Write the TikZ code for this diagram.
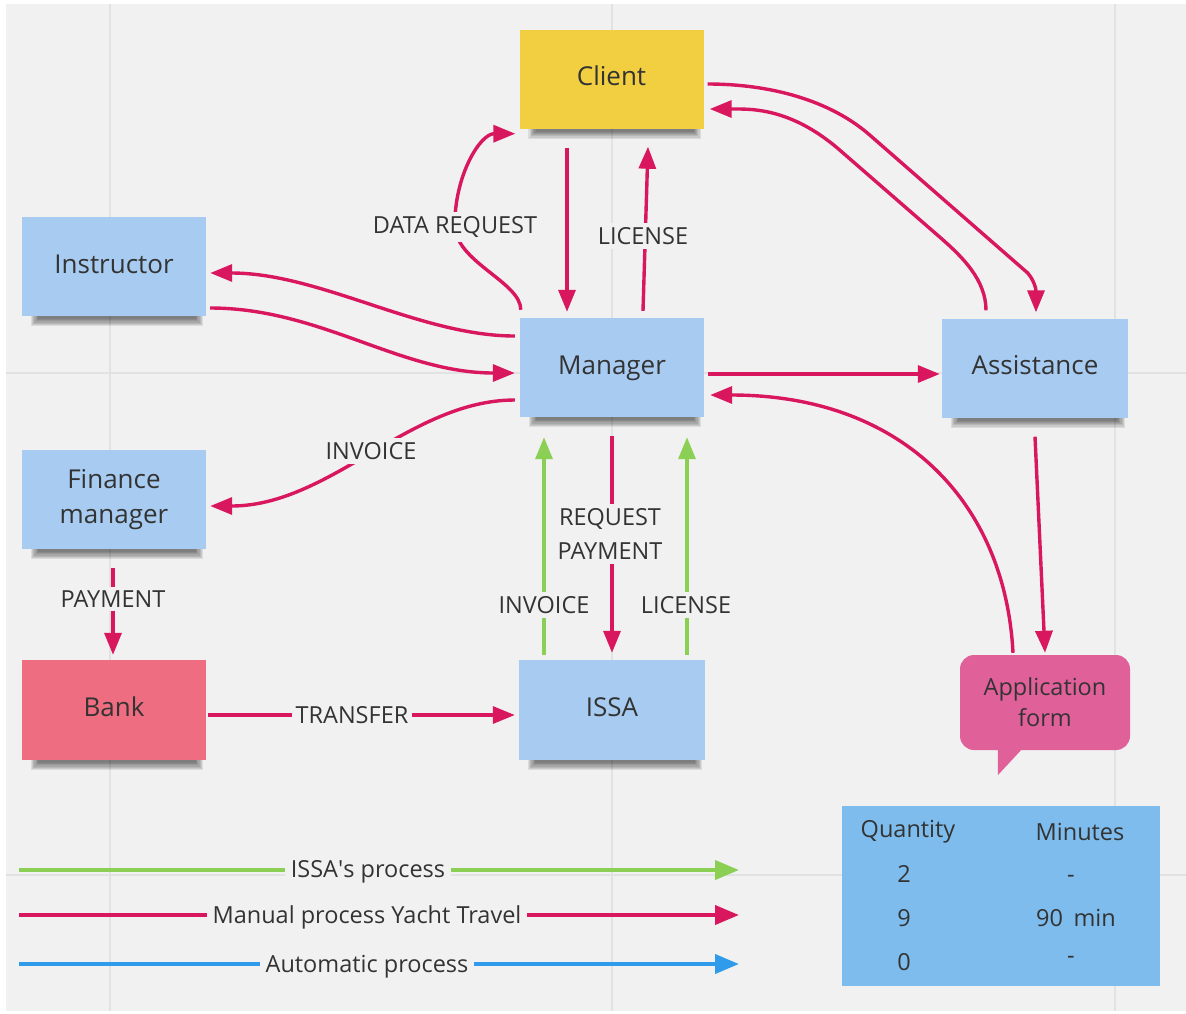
\documentclass[tikz,border=0pt]{standalone}
\usepackage{fontspec}
\setmainfont{Open Sans}
\usetikzlibrary{arrows.meta,calc}
\definecolor{board}{HTML}{F1F1F1}
\definecolor{gridln}{HTML}{E2E2E2}
\definecolor{ink}{HTML}{333333}
\definecolor{mag}{HTML}{D9175F}
\definecolor{grn}{HTML}{8CCF55}
\definecolor{blu}{HTML}{2F9BEA}
\definecolor{notebl}{HTML}{A8CCF1}
\definecolor{noteyl}{HTML}{F2CF40}
\definecolor{notepk}{HTML}{EE6D80}
\definecolor{bubble}{HTML}{E0609A}
\definecolor{tbl}{HTML}{7DBCEC}
\pgfdeclarelayer{boardlayer}
\pgfdeclarelayer{shadelayer}
\pgfsetlayers{boardlayer,shadelayer,main}
% soft shadow along the lower edge of a sticky note
\newcommand{\noteshade}[1]{%
  \begin{pgfonlayer}{shadelayer}
    \foreach \k in {0,...,6}
      \fill[black, opacity=0.085]
        ($(#1.south west)+(9+1.2*\k,-12)$) rectangle ($(#1.south east)+(-3-1.2*\k,10-1.2*\k)$);
  \end{pgfonlayer}}
\begin{document}
\begin{tikzpicture}[x=1pt,y=-1pt,
  note/.style={draw=none, minimum width=184pt, minimum height=99pt, inner sep=0pt,
    text=ink, font=\fontsize{26}{35}\selectfont},
  oneline/.style={text height=19pt, text depth=6pt},
  bubblebox/.style={fill=bubble, rounded corners=14pt, minimum width=170pt,
    minimum height=95pt, inner sep=0pt, text=ink, align=center,
    font=\fontsize{23.5}{31}\selectfont},
  lbl/.style={fill=board, inner sep=4pt, text=ink, align=center,
    font=\fontsize{23.5}{34}\selectfont},
  cell/.style={anchor=base, inner sep=0pt, text=ink, font=\fontsize{23.5}{28}\selectfont},
  flow/.style={draw=mag, line width=3.4pt, -{Triangle[length=22pt,width=17pt]}},
  flowg/.style={draw=grn, line width=3.4pt, -{Triangle[length=22pt,width=17pt]}},
  leg/.style={line width=4pt, -{Triangle[length=24pt,width=19pt]}},
]
\useasboundingbox (0,0) rectangle (1186,1013);
\begin{pgfonlayer}{boardlayer}
\fill[white] (0,0) rectangle (1186,1013);
\fill[board] (6,4) rectangle (1186,1011);
% board grid
\draw[gridln, line width=2pt]
  (110,4) -- (110,1011) (612,4) -- (612,1011) (1115,4) -- (1115,1011)
  (6,373) -- (1186,373) (6,875) -- (1186,875);
\end{pgfonlayer}

% sticky notes
\node[note, oneline, fill=noteyl] (client) at (611.5,79) {Client};
\node[note, oneline, fill=notebl] (instr) at (114,266.5) {Instructor};
\node[note, oneline, fill=notebl] (mgr) at (612,367.5) {Manager};
\node[note, oneline, fill=notebl, minimum width=186pt] (assist) at (1035,368) {Assistance};
\node[note, fill=notebl, align=center] (fin) at (114,499.5) {Finance\\manager};
\node[note, oneline, fill=notepk, minimum height=100pt] (bank) at (114,710) {Bank};
\node[note, oneline, fill=notebl, minimum width=186pt, minimum height=100pt] (issa) at (612,710) {ISSA};
\noteshade{client}\noteshade{instr}\noteshade{mgr}\noteshade{assist}
\noteshade{fin}\noteshade{bank}\noteshade{issa}

% speech bubble
\node[bubblebox] (app) at (1045,702.5) {Application\\form};
\fill[bubble] ($(app.south west)+(38,-2)$) -- ($(app.south west)+(38,25)$)
  -- ($(app.south west)+(63,-2)$) -- cycle;

% client <-> manager
\draw[flow] ($(client.south)+(-44.5,19)$) -- ($(mgr.north)+(-45,-6)$);
\draw[flow] ($(mgr.north)+(31,-7)$) -- ($(client.south)+(36.5,18)$);
\node[lbl] (lic1) at (643,236) {LICENSE};
\draw[flow] ($(mgr.north west)+(1,-8)$) .. controls +(0,-28) and +(0,37) .. ++(-66,-85)
  .. controls +(0,-50) and +(-35,0) .. ($(client.south west)+(-4,5)$);
\node[lbl] (dreq) at (455,227) {DATA REQUEST};

% instructor <-> manager
\draw[flow] ($(mgr.west)+(-5,-31.5)$) .. controls +(-95,0) and +(110,0) .. ($(instr.east)+(4,6.5)$);
\draw[flow] ($(instr.east)+(4,41.5)$) .. controls +(110,0) and +(-115,0) .. ($(mgr.west)+(-5,5.5)$);

% manager -> assistance, client <-> assistance
\draw[flow] ($(mgr.east)+(4,6.5)$) -- ($(assist.west)+(-2,6)$);
\draw[flow] ($(client.east)+(4,5)$) .. controls +(62,0) and +(-40,-35) .. ++(162,51)
  -- ++(158,138) .. controls +(6,7) and +(0,-24) .. ($(assist.north)+(1,-6)$);
\draw[flow] ($(assist.north)+(-49,-8)$) .. controls +(0,-30) and +(23,20) .. ++(-46,-73)
  -- ++(-100,-87) .. controls +(-50,-43.5) and +(40,0) .. ($(client.east)+(6,30)$);

% assistance -> application form -> manager
\draw[flow] ($(assist.south)+(0,19)$) -- ($(app.north)+(0,-2)$);
\draw[flow] ($(app.north)+(-32,-2)$) .. controls +(-8,-153) and +(190,0) .. ($(mgr.east)+(6,27.5)$);

% manager -> finance manager
\draw[flow] ($(mgr.west)+(-5,32.5)$) .. controls +(-105,0) and +(120,0) .. ($(fin.east)+(4,6.5)$);
\node[lbl] (inv1) at (371,451) {INVOICE};

% finance manager -> bank -> ISSA
\draw[flow] ($(fin.south)+(-1,19)$) -- ($(bank.north)+(-1,-5)$);
\node[lbl] (pay) at (113,599) {PAYMENT};
\draw[flow] ($(bank.east)+(2,5)$) -- ($(issa.west)+(-4,5)$);
\node[lbl] (trf) at (352,715) {TRANSFER};

% manager <-> ISSA
\draw[flow] ($(mgr.south)+(0,19)$) -- ($(issa.north)+(0,-7)$);
\node[lbl] (reqpay) at (610,534) {REQUEST\\PAYMENT};
\draw[flowg] ($(issa.north)+(-68,-5)$) -- ($(mgr.south)+(-68,20)$);
\node[lbl] (inv2) at (544,605) {INVOICE};
\draw[flowg] ($(issa.north)+(75,-5)$) -- ($(mgr.south)+(75,20)$);
\node[lbl] (lic2) at (686,605) {LICENSE};

% legend
\coordinate (lga) at (19,870);  \coordinate (lgb) at (739,870);
\coordinate (lma) at (19,915);  \coordinate (lmb) at (739,915);
\coordinate (lba) at (19,964);  \coordinate (lbb) at (739,964);
\draw[leg, draw=grn] (lga) -- (lgb);
\draw[leg, draw=mag] (lma) -- (lmb);
\draw[leg, draw=blu] (lba) -- (lbb);
\node[lbl, anchor=base, inner xsep=6pt] (lgt) at (368,877) {ISSA\textquotesingle s process};
\node[lbl, anchor=base, inner xsep=6pt] (lmt) at (367,923) {Manual process Yacht Travel};
\node[lbl, anchor=base, inner xsep=6pt] (lbt) at (367,972) {Automatic process};

% summary table
\node[fill=tbl, minimum width=318pt, minimum height=180pt, inner sep=0pt] (tab) at (1001,896) {};
\node[cell] (hq) at (908,837) {Quantity};
\node[cell] (hm) at (1080,840) {Minutes};
\node[cell] (q1) at (904,882) {2};
\node[cell] (m1) at (1071,882) {-};
\node[cell] (q2) at (904,926) {9};
\node[cell] (m2) at (1076,926) {90\hspace{0.45em}min};
\node[cell] (q3) at (904,970) {0};
\node[cell] (m3) at (1071,963) {-};
\end{tikzpicture}
\end{document}
